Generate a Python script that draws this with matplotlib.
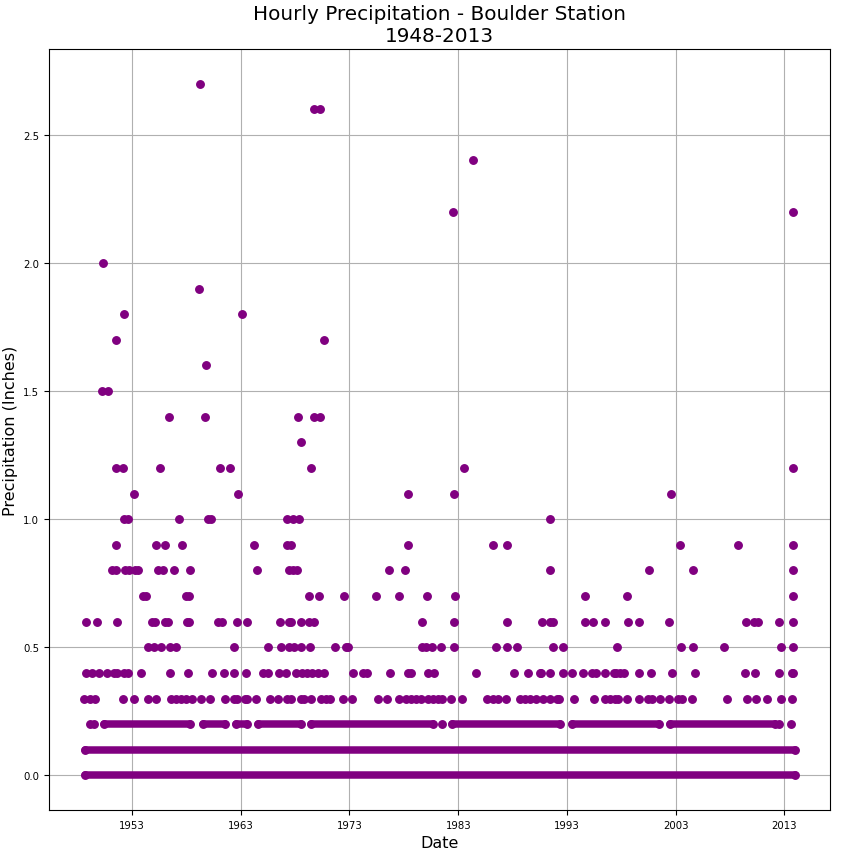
import matplotlib
matplotlib.use("Agg")
import matplotlib.pyplot as plt
import numpy as np

# ---- data (decimal years, precipitation in inches) ----
# dense bands: (start_year, end_year) spans where hourly points overlap into a solid band
band_00 = [(1948.69, 2013.92)]
band_01 = [(1948.69, 2013.92)]
band_02 = [(1950.45, 1958.32), (1959.52, 1961.60), (1962.59, 1963.60),
           (1964.55, 1968.52), (1969.50, 1980.65), (1982.40, 1992.33),
           (1993.46, 2001.45), (2002.47, 2012.14)]
pts_02 = [1949.10, 1949.53, 1981.51, 2012.51, 2013.62]

pts_03 = [1948.64, 1949.10, 1949.62, 1952.17, 1953.16, 1954.45, 1955.22, 1956.60,
          1957.09, 1957.52, 1958.01, 1958.53, 1959.39, 1960.22, 1961.54, 1962.37,
          1962.68, 1963.36, 1963.60, 1964.37, 1965.69, 1966.43, 1967.29, 1967.60,
          1968.52, 1968.83, 1969.50, 1970.36, 1970.82, 1971.22, 1972.45, 1973.22,
          1975.58, 1976.44, 1977.58, 1978.20, 1978.66, 1979.12, 1979.58, 1980.19,
          1980.65, 1981.11, 1981.51, 1982.34, 1983.36, 1985.66, 1986.18, 1986.64,
          1987.41, 1988.64, 1989.10, 1989.56, 1990.18, 1990.79, 1991.41, 1992.11,
          1992.23, 1993.65, 1995.49, 1996.47, 1996.94, 1997.40, 1997.70, 1998.56,
          1999.61, 2000.47, 2000.84, 2001.54, 2002.37, 2003.23, 2003.60, 2004.52,
          2007.69, 2009.53, 2010.39, 2011.37, 2012.70, 2013.68]
pts_04 = [1948.79, 1949.32, 1949.93, 1950.70, 1951.31, 1951.62, 1952.23, 1952.60,
          1953.83, 1956.54, 1958.13, 1960.35, 1961.45, 1962.40, 1963.45, 1965.05,
          1965.54, 1966.52, 1967.20, 1968.12, 1968.61, 1969.10, 1969.59, 1970.08,
          1970.67, 1973.37, 1974.29, 1974.60, 1976.69, 1978.35, 1978.66, 1980.25,
          1980.75, 1984.62, 1988.09, 1989.41, 1990.48, 1990.64, 1991.44, 1992.64,
          1993.46, 1994.48, 1995.34, 1995.65, 1996.51, 1997.30, 1997.55, 1997.86,
          1998.23, 1999.65, 2000.71, 2002.68, 2004.80, 2009.38, 2010.30, 2012.51,
          2013.68, 2013.80]
pts_05 = [1954.45, 1955.00, 1955.71, 1956.54, 1957.03, 1962.40, 1965.54, 1966.71,
          1967.44, 1967.93, 1968.52, 1969.38, 1971.68, 1972.66, 1972.88, 1979.64,
          1980.01, 1980.56, 1981.39, 1982.59, 1986.45, 1987.47, 1988.39, 1991.71,
          1992.64, 1997.58, 2003.51, 2004.62, 2007.44, 2012.70, 2013.74]
pts_06 = [1948.76, 1949.78, 1951.62, 1954.85, 1955.15, 1956.08, 1956.32, 1958.07,
          1958.26, 1960.90, 1961.30, 1962.62, 1963.60, 1966.61, 1967.47, 1967.66,
          1968.58, 1969.29, 1969.78, 1979.64, 1982.59, 1987.47, 1990.70, 1991.44,
          1991.68, 1994.66, 1995.40, 1996.51, 1998.63, 1999.58, 2002.37, 2009.50,
          2010.24, 2010.55, 2012.51, 2013.74]
pts_07 = [1954.02, 1954.32, 1957.95, 1958.26, 1969.32, 1970.24, 1972.48, 1975.40,
          1977.52, 1980.10, 1982.68, 1994.66, 1998.50, 2013.74]
pts_08 = [1951.19, 1951.50, 1952.39, 1952.70, 1953.31, 1953.56, 1955.37, 1955.86,
          1956.87, 1958.32, 1964.52, 1967.47, 1967.78, 1968.15, 1976.60, 1978.07,
          1991.44, 2000.53, 2004.62, 2013.74]
pts_09 = [1951.50, 1955.22, 1956.01, 1957.58, 1964.25, 1967.29, 1967.66, 1978.35,
          1986.23, 1987.47, 2003.42, 2008.76, 2013.74]
pts_10 = [1952.30, 1952.60, 1957.34, 1959.98, 1960.30, 1967.29, 1967.84, 1968.39,
          1991.44]
pts_11 = [1953.19, 1962.77, 1978.35, 1982.59, 2002.59]
pts_12 = [1951.56, 1952.17, 1955.55, 1961.08, 1962.03, 1969.50, 1983.51, 2013.74]
pts_13 = [1968.58]
pts_14 = [1956.41, 1959.73, 1968.30, 1969.75, 1970.27]
pts_15 = [1950.21, 1950.79]
pts_16 = [1959.82]
pts_17 = [1951.53, 1970.70]
pts_18 = [1952.27, 1963.14]
pts_19 = [1959.18]
pts_20 = [1950.33]
pts_22 = [1982.50, 2013.74]
pts_24 = [1984.34]
pts_26 = [1969.75, 1970.27]
pts_27 = [1959.24]

sparse = {0.2: pts_02, 0.3: pts_03, 0.4: pts_04, 0.5: pts_05, 0.6: pts_06,
          0.7: pts_07, 0.8: pts_08, 0.9: pts_09, 1.0: pts_10, 1.1: pts_11,
          1.2: pts_12, 1.3: pts_13, 1.4: pts_14, 1.5: pts_15, 1.6: pts_16,
          1.7: pts_17, 1.8: pts_18, 1.9: pts_19, 2.0: pts_20, 2.2: pts_22,
          2.4: pts_24, 2.6: pts_26, 2.7: pts_27}
bands = {0.0: band_00, 0.1: band_01, 0.2: band_02}

tick_years = [1953, 1963, 1973, 1983, 1993, 2003, 2013]
tick_labels = [str(y) for y in tick_years]

# ---- figure ----
COLOR = "purple"
fig = plt.figure(figsize=(8.41, 8.54), dpi=100)
ax = fig.add_axes([49 / 841, 43 / 854, 781 / 841, 761 / 854])

xs, ys = [], []
for v, yrs in sparse.items():
    xs.extend(yrs)
    ys.extend([v] * len(yrs))
for v, segs in bands.items():
    for a, b in segs:
        xs.extend([a, b])
        ys.extend([v, v])
ax.scatter(xs, ys, s=29, color=COLOR, zorder=3)
for v, segs in bands.items():
    for a, b in segs:
        ax.plot([a, b], [v, v], color=COLOR, lw=5.4, solid_capstyle="round", zorder=3)

ax.set_xticks(tick_years)
ax.set_xticklabels(tick_labels)
ax.set_yticks([0.0, 0.5, 1.0, 1.5, 2.0, 2.5])
ax.tick_params(labelsize=7.3)
ax.grid(True, color="#b0b0b0", linewidth=0.8)
ax.set_axisbelow(True)
ax.margins(x=0.05, y=0.05)

ax.set_title("Hourly Precipitation - Boulder Station\n1948-2013", fontsize=14.4)
ax.set_xlabel("Date", fontsize=11.5)
ax.set_ylabel("Precipitation (Inches)", fontsize=11.5)

fig.savefig("out.png", dpi=100)
